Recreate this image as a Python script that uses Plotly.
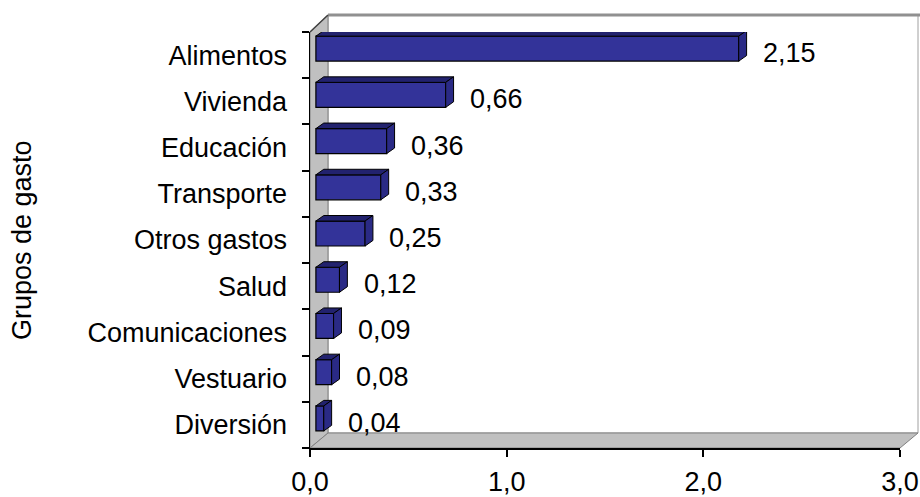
import plotly.graph_objects as go

categories = ["Alimentos", "Vivienda", "Educación", "Transporte", "Otros gastos",
              "Salud", "Comunicaciones", "Vestuario", "Diversión"]
values = [2.15, 0.66, 0.36, 0.33, 0.25, 0.12, 0.09, 0.08, 0.04]
x_ticks = [0, 1, 2, 3]
y_title = "Grupos de gasto"

FONT = "Liberation Sans, Arial, sans-serif"
FS = 27
FRONT = "#333399"
TOP = "#22226e"
SIDE = "#2a2a85"

W, H = 920, 497
ML, MT = 310, 32
pw = 590
ph = 416
MR = W - ML - pw
MB = H - MT - ph

def px(xp):
    # screen pixel -> paper
    return (xp - ML) / pw

def py(yp):
    return 1 - (yp - MT) / ph

idx = list(range(len(categories)))
BASE = 0.03      # front-face shift (data units)
BW = 0.54        # bar thickness (category units)
BOFF = -0.41     # offset of front face
DX = 0.04        # depth in x (data units)
DY = 0.12        # depth in y (category units)

fig = go.Figure()

fig.add_trace(go.Bar(
    x=values, y=idx, orientation="h", base=BASE,
    width=BW, offset=BOFF,
    marker=dict(color=FRONT, line=dict(color="black", width=1.2)),
    hoverinfo="skip", showlegend=False,
))

shapes = []
wall_gray = "#c0c0c0"
shapes.append(dict(type="path", xref="paper", yref="paper", layer="below",
                   path=f"M{px(328)},{py(15)} L{px(918)},{py(15)} L{px(918)},{py(433)} L{px(328)},{py(433)} Z",
                   fillcolor="white", line=dict(color="#a0a0a0", width=1)))
shapes.append(dict(type="path", xref="paper", yref="paper", layer="below",
                   path=f"M{px(310)},{py(448)} L{px(310)},{py(32)} L{px(328)},{py(15)} L{px(328)},{py(433)} Z",
                   fillcolor=wall_gray, line=dict(color="#808080", width=1)))
shapes.append(dict(type="path", xref="paper", yref="paper", layer="below",
                   path=f"M{px(310)},{py(448)} L{px(328)},{py(433)} L{px(918)},{py(433)} L{px(900)},{py(448)} Z",
                   fillcolor=wall_gray, line=dict(color="#808080", width=1)))
shapes.append(dict(type="line", xref="paper", yref="paper", layer="below",
                   x0=px(328), x1=px(920), y0=py(15), y1=py(15),
                   line=dict(color="#909090", width=3)))
shapes.append(dict(type="line", xref="paper", yref="paper", layer="above",
                   x0=px(310), x1=px(328), y0=py(32), y1=py(15),
                   line=dict(color="#404040", width=1.5)))

for i, v in zip(idx, values):
    x0 = BASE
    x1 = BASE + v
    yt = i + BOFF
    yb = i + BOFF + BW
    shapes.append(dict(type="path", xref="x", yref="y",
                       path=f"M{x0},{yt} L{x1},{yt} L{x1+DX},{yt-DY} L{x0+DX},{yt-DY} Z",
                       fillcolor=TOP, line=dict(color="black", width=1)))
    shapes.append(dict(type="path", xref="x", yref="y",
                       path=f"M{x1},{yt} L{x1},{yb} L{x1+DX},{yb-DY} L{x1+DX},{yt-DY} Z",
                       fillcolor=SIDE, line=dict(color="black", width=1)))

annotations = []
for i, v in zip(idx, values):
    annotations.append(dict(x=v, y=i, xref="x", yref="y", xanchor="left",
                            xshift=28, yshift=2, showarrow=False,
                            text=f"{v:.2f}".replace(".", ","),
                            font=dict(family=FONT, size=FS, color="black")))
annotations.append(dict(x=px(22), y=0.5, xref="paper", yref="paper",
                        text=y_title, textangle=-90, showarrow=False,
                        xanchor="center", yanchor="middle",
                        font=dict(family=FONT, size=FS, color="black")))

fig.update_layout(
    width=W, height=H, autosize=False,
    margin=dict(l=ML, r=MR, t=MT, b=MB, pad=0),
    paper_bgcolor="white", plot_bgcolor="rgba(0,0,0,0)",
    separators=",.",
    font=dict(family=FONT, size=FS, color="black"),
    shapes=shapes, annotations=annotations,
    bargap=0,
)
fig.update_xaxes(range=[0, 3], tickvals=x_ticks, tickformat=".1f",
                 automargin=False,
                 showgrid=False, zeroline=False, showline=True,
                 linecolor="black", linewidth=1.5,
                 ticks="outside", ticklen=7, tickwidth=2, tickcolor="black",
                 ticklabelstandoff=2, fixedrange=True)
fig.update_yaxes(range=[8.5, -0.5], tickvals=idx, ticktext=categories,
                 automargin=False,
                 showgrid=False, zeroline=False, showline=True,
                 linecolor="black", linewidth=1.5, ticks="",
                 minor=dict(tickvals=[i + 0.5 for i in idx] + [-0.5], ticks="outside",
                            ticklen=7, tickwidth=2, tickcolor="black", showgrid=False),
                 ticklabelstandoff=16, fixedrange=True)

fig.write_html(
    "out.html",
    config={"displayModeBar": False, "staticPlot": True},
    post_script="document.body.style.margin='0';document.body.style.overflow='hidden';",
)
